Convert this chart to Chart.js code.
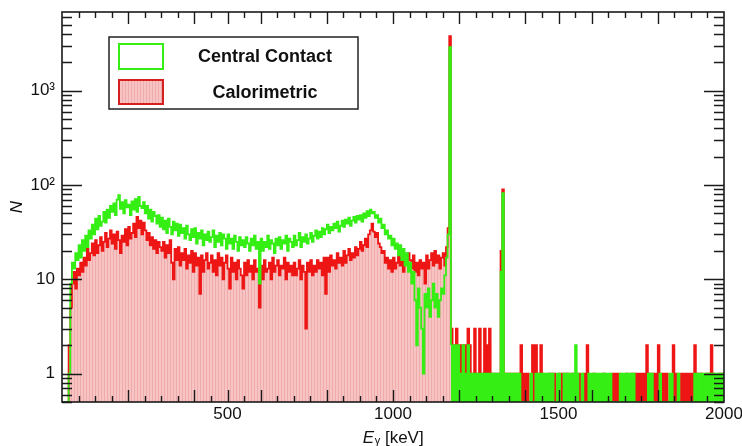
<!DOCTYPE html>
<html>
<head>
<meta charset="utf-8">
<script src="https://cdn.jsdelivr.net/npm/chart.js@4/dist/chart.umd.min.js"></script>
<style>
html,body{margin:0;padding:0;background:#fff;}
#wrap{width:742px;height:446px;}
</style>
</head>
<body>
<div id="wrap"><canvas id="c" width="742" height="446"></canvas></div>
<script>
// ---- axis / binning ----
const BIN_WIDTH = 5;           // keV per histogram bin
const E_MIN = 0, E_MAX = 2000; // keV
const E_TAIL = 1175;           // start of the sparse high-energy tail
const Y_MIN = 0.5, Y_MAX = 6850;
const X_TICK_LABELS = [500, 1000, 1500, 2000];
const Y_TICK_LABELS = { 1: '1', 10: '10', 100: '10²', 1000: '10³' };
const SERIES_NAMES = ['Central Contact', 'Calorimetric'];
const X_TITLE = ['E', 'γ', ' [keV]'];
const Y_TITLE = 'N';

// ---- Central Contact: counts per 5 keV bin ----
// 0 – 595 keV
const contactLow = [
  0,0,0,0,1,9,15,13,19,16,
  23,17,26,20,29,22,33,27,38,30,
  44,34,47,37,41,52,40,55,45,60,
  52,64,48,70,78,56,66,50,69,58,
  62,48,67,55,71,52,75,60,57,66,
  50,60,44,55,41,52,47,39,48,36,
  45,34,42,31,44,36,30,41,33,39,
  29,38,31,35,27,37,30,26,34,28,
  35,24,31,27,33,23,30,26,32,25,
  28,33,22,29,25,31,23,30,27,21,
  30,24,27,21,29,25,20,28,23,26,
  22,28,24,20,27,23,29,21,25,9
];
// 600 – 1170 keV
const contactMid = [
  27,20,25,22,29,21,26,24,19,27,
  23,28,21,26,24,29,20,27,25,22,
  29,23,26,31,22,28,25,30,24,27,
  31,25,29,33,27,32,28,35,30,34,
  38,31,36,33,39,35,41,32,37,42,
  36,43,39,45,37,42,46,40,47,43,
  48,41,50,45,53,47,55,50,52,45,
  48,40,44,35,38,30,33,27,29,23,
  27,21,24,18,23,16,21,14,19,12,
  15,9,12,6,2,8,5,3,1,7,
  5,8,4,6,9,5,7,4,6,8,
  7,11,17,30,2900
];
// 1175 – 1995 keV
const contactHigh = [
  2,1,2,1,2,1,1,2,1,1,
  2,1,1,1,1,1,1,1,1,1,
  1,1,1,1,1,1,1,1,0,1,
  12,82,1,1,1,1,1,0,1,0,
  1,1,0,0,0,0,0,0,1,0,
  0,1,1,1,0,1,1,0,1,1,
  0,1,0,0,1,1,0,0,1,0,
  1,0,1,0,1,2,1,0,0,1,
  0,0,0,1,1,1,0,1,1,1,
  1,1,0,1,1,1,1,0,0,0,
  0,0,1,1,1,1,0,1,1,0,
  1,0,0,0,0,0,0,0,0,1,
  0,1,0,0,0,0,1,0,0,0,
  0,0,1,1,0,0,0,1,0,0,
  0,0,0,0,0,0,0,1,1,0,
  1,0,1,1,1,0,1,1,0,1,
  1,1,1,1,1
];

// ---- Calorimetric: counts per 5 keV bin ----
// 0 – 595 keV
const caloLow = [
  0,0,0,0,2,5,9,12,8,13,
  11,15,12,17,14,21,16,19,24,18,
  26,19,23,28,20,25,31,22,27,33,
  24,30,21,32,26,19,29,25,34,23,
  36,27,31,39,28,46,35,42,30,40,
  33,26,31,23,28,21,26,19,25,22,
  20,25,17,23,19,26,15,10,21,16,
  22,14,19,16,21,13,18,15,20,12,
  19,14,17,7,18,12,16,19,13,15,
  18,12,16,11,19,14,17,10,15,18,
  13,8,17,12,15,10,16,13,11,8,
  15,11,16,12,14,10,16,12,13,5
];
// 600 – 1170 keV
const caloMid = [
  14,10,16,12,13,15,10,17,12,14,
  16,11,14,13,17,10,15,12,14,11,
  15,11,13,16,10,14,12,3,15,12,
  16,11,14,12,16,13,15,11,17,7,
  17,12,18,14,16,13,19,15,17,14,
  20,15,18,21,16,19,17,22,18,21,
  25,20,23,27,22,30,33,39,32,28,
  31,24,22,19,20,15,17,13,16,12,
  17,13,15,18,14,17,12,18,15,19,
  16,13,18,12,15,11,16,13,15,9,
  18,13,16,19,14,20,15,18,13,17,
  19,14,22,35,3800
];
// 1175 – 1995 keV
const caloHigh = [
  3,2,2,3,1,2,2,1,2,1,
  3,2,1,1,3,1,1,3,1,1,
  3,2,1,3,1,1,1,0,1,1,
  20,90,1,0,1,0,1,1,1,1,
  1,0,2,1,0,1,1,0,0,2,
  1,2,0,1,2,1,0,0,0,1,
  0,1,1,0,0,1,1,1,0,1,
  1,0,0,1,0,0,1,1,0,0,
  1,1,2,0,0,0,1,0,0,0,
  0,0,1,0,0,0,0,1,1,1,
  1,1,0,0,0,0,1,0,0,1,
  0,1,1,1,0,1,1,0,2,0,
  1,0,1,1,0,2,0,1,1,0,
  1,0,0,0,2,1,1,0,0,1,
  1,1,1,0,1,1,1,2,1,1,
  0,1,0,0,1,1,0,2,1,0,
  0,0,1,0,1
];

const contactMain = [...contactLow, ...contactMid];
const caloMain = [...caloLow, ...caloMid];

// ---- styles ----
const GREEN = '#35ee14';
const RED = '#ee1515';
const FONT = "'Liberation Sans', Arial, Helvetica, sans-serif";
const INK = '#111';

// histogram -> stepped points (bin left edges + closing edge); empty bins sit on the axis floor
function toSteps(counts, startE, nextCount) {
  const f = v => (v > 0 ? v : Y_MIN);
  const pts = counts.map((v, i) => ({ x: startE + i * BIN_WIDTH, y: f(v) }));
  const closing = nextCount !== undefined ? nextCount : counts[counts.length - 1];
  pts.push({ x: startE + counts.length * BIN_WIDTH, y: f(closing) });
  return pts;
}

const canvas = document.getElementById('c');
const mainCtx = canvas.getContext('2d');
function makeHatch() {
  const p = document.createElement('canvas');
  p.width = 3; p.height = 4;
  const g = p.getContext('2d');
  g.fillStyle = '#f7c3c3'; g.fillRect(0, 0, 3, 4);
  g.fillStyle = '#eeacac'; g.fillRect(2, 0, 1, 4);
  return mainCtx.createPattern(p, 'repeat');
}
const HATCH = makeHatch();

const decorPlugin = {
  id: 'decor',
  afterDraw(chart) {
    const { ctx, chartArea: a, scales: { x, y } } = chart;
    ctx.save();
    ctx.strokeStyle = '#1a1a1a';
    ctx.lineWidth = 1.4;
    ctx.beginPath();
    for (let d = -1; d <= 3; d++) {
      for (let m = 1; m <= 9; m++) {
        const v = m * Math.pow(10, d);
        if (v <= Y_MIN * 0.999 || v > Y_MAX) continue;
        const py = Math.round(y.getPixelForValue(v)) + 0.5;
        const len = m === 1 ? 20 : 10;
        ctx.moveTo(a.left, py); ctx.lineTo(a.left + len, py);
        ctx.moveTo(a.right, py); ctx.lineTo(a.right - len, py);
      }
    }
    for (let e = 50; e < E_MAX; e += 50) {
      const px = Math.round(x.getPixelForValue(e)) + 0.5;
      const len = (e % 200 === 0 || e % 500 === 0) ? 12 : 6;
      ctx.moveTo(px, a.bottom); ctx.lineTo(px, a.bottom - len);
      ctx.moveTo(px, a.top); ctx.lineTo(px, a.top + len);
    }
    ctx.stroke();
    ctx.lineWidth = 1.6;
    ctx.strokeRect(a.left, a.top, a.right - a.left, a.bottom - a.top);

    // legend
    const lx = 109, ly = 37, lw = 249, lh = 72;
    ctx.fillStyle = '#fff';
    ctx.fillRect(lx, ly, lw, lh);
    ctx.lineWidth = 1.5;
    ctx.strokeStyle = '#222';
    ctx.strokeRect(lx, ly, lw, lh);
    ctx.lineWidth = 2;
    ctx.strokeStyle = GREEN;
    ctx.strokeRect(119, 44, 44, 25);
    ctx.fillStyle = HATCH;
    ctx.fillRect(119, 80, 44, 24);
    ctx.strokeStyle = '#d62020';
    ctx.strokeRect(119, 80, 44, 24);
    ctx.fillStyle = INK;
    ctx.font = 'bold 18px ' + FONT;
    ctx.textAlign = 'center';
    ctx.textBaseline = 'middle';
    ctx.fillText(SERIES_NAMES[0], 265, 57);
    ctx.fillText(SERIES_NAMES[1], 265, 93);

    // x-axis title: E_γ [keV]
    ctx.textAlign = 'left';
    ctx.textBaseline = 'alphabetic';
    ctx.font = 'italic 17px ' + FONT;
    const wE = ctx.measureText(X_TITLE[0]).width;
    ctx.font = '11px ' + FONT;
    const wG = ctx.measureText(X_TITLE[1]).width;
    ctx.font = '17px ' + FONT;
    const wK = ctx.measureText(X_TITLE[2]).width;
    const cx = (a.left + a.right) / 2;
    let tx = cx - (wE + wG + wK) / 2;
    const base = 443;
    ctx.font = 'italic 17px ' + FONT;
    ctx.fillText(X_TITLE[0], tx, base); tx += wE + 0.5;
    ctx.font = '11px ' + FONT;
    ctx.fillText(X_TITLE[1], tx, base + 1); tx += wG;
    ctx.font = '17px ' + FONT;
    ctx.fillText(X_TITLE[2], tx, base);

    // y-axis title
    ctx.save();
    ctx.translate(17, (a.top + a.bottom) / 2);
    ctx.rotate(-Math.PI / 2);
    ctx.font = 'italic 17px ' + FONT;
    ctx.textAlign = 'center';
    ctx.textBaseline = 'middle';
    ctx.fillText(Y_TITLE, 0, 0);
    ctx.restore();
    ctx.restore();
  }
};

const LW = 1.8;
new Chart(canvas, {
  type: 'line',
  data: {
    datasets: [
      { label: SERIES_NAMES[0], data: toSteps(contactMain, E_MIN, contactHigh[0]), stepped: 'before',
        borderColor: GREEN, borderWidth: LW, fill: false, pointRadius: 0 },
      { label: SERIES_NAMES[0] + ' (tail)', data: toSteps(contactHigh, E_TAIL), stepped: 'before',
        borderColor: GREEN, borderWidth: LW, fill: 'start', backgroundColor: GREEN, pointRadius: 0 },
      { label: SERIES_NAMES[1], data: toSteps(caloMain, E_MIN, caloHigh[0]), stepped: 'before',
        borderColor: RED, borderWidth: LW, fill: 'start', backgroundColor: HATCH, pointRadius: 0 },
      { label: SERIES_NAMES[1] + ' (tail)', data: toSteps(caloHigh, E_TAIL), stepped: 'before',
        borderColor: RED, borderWidth: LW, fill: 'start', backgroundColor: RED, pointRadius: 0 }
    ]
  },
  options: {
    responsive: false,
    animation: false,
    devicePixelRatio: 1,
    layout: { padding: { top: 12, right: 18, left: 0, bottom: 0 } },
    plugins: { legend: { display: false }, tooltip: { enabled: false } },
    scales: {
      x: {
        type: 'linear', min: E_MIN, max: E_MAX,
        grid: { display: false, drawTicks: false }, border: { display: false },
        ticks: { color: INK, font: { family: FONT, size: 17 }, padding: 2, maxRotation: 0, autoSkip: false,
                 callback: v => String(v) },
        afterBuildTicks: s => { s.ticks = X_TICK_LABELS.map(v => ({ value: v })); },
        afterFit: s => { s.height = 44; s.paddingLeft = 0; s.paddingRight = 0; }
      },
      y: {
        type: 'logarithmic', min: Y_MIN, max: Y_MAX,
        grid: { display: false, drawTicks: false }, border: { display: false },
        ticks: { color: INK, font: { family: FONT, size: 17 }, padding: 7, autoSkip: false,
                 callback: v => (Y_TICK_LABELS[v] !== undefined ? Y_TICK_LABELS[v] : '') },
        afterBuildTicks: s => { s.ticks = Object.keys(Y_TICK_LABELS).map(v => ({ value: +v })); },
        afterFit: s => { s.width = 62; s.paddingTop = 0; s.paddingBottom = 0; }
      }
    }
  },
  plugins: [decorPlugin]
});
</script>
</body>
</html>
